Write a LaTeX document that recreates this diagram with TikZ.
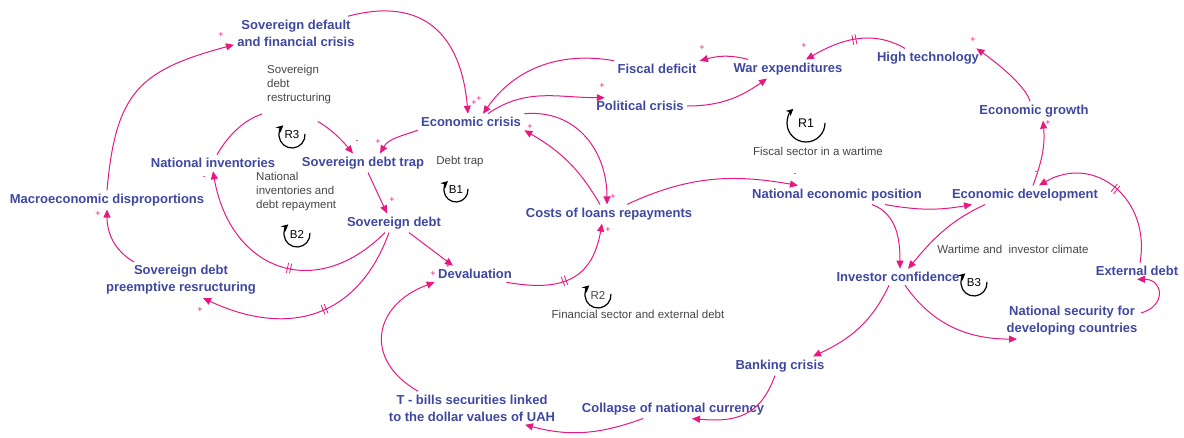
\documentclass[tikz,border=0pt]{standalone}
\usepackage{fontspec}
\setmainfont{Liberation Sans}
\usepackage{tikz}
\usetikzlibrary{arrows.meta,decorations.markings}
\definecolor{varblue}{RGB}{62,72,160}
\definecolor{linkpink}{RGB}{232,24,128}
\definecolor{notegray}{RGB}{70,70,70}
\tikzstyle{varbox} = [font=\bfseries\fontsize{13}{17}\selectfont, text=varblue, align=center, inner sep=3.3pt]
\tikzstyle{looptitle} = [font=\fontsize{11.5}{14}\selectfont, text=notegray, inner sep=1pt]
\tikzstyle{loopid} = [font=\fontsize{11.5}{13}\selectfont, inner sep=0pt]
\tikzstyle{causal} = [draw=linkpink, line width=1pt, -{Triangle[length=8pt,width=7pt]}]
\tikzstyle{polarity} = [text=linkpink, font=\fontsize{9}{9}\selectfont, inner sep=0pt]
\tikzstyle{loopturn} = [black, line width=1.2pt, -{Stealth[length=7pt,width=7pt]}]
\tikzset{delaymark/.style={postaction={decorate, decoration={markings, mark=at position #1 with {\draw[linkpink, line width=0.8pt, -] (-1.6pt,-5pt) -- (-1.6pt,5pt) (1.6pt,-5pt) -- (1.6pt,5pt);}}}},
  delaymark/.default=0.5}

\begin{document}
\begin{tikzpicture}[x=1pt, y=1pt]
    \useasboundingbox (0,0) rectangle (1184,-437);
    % variables
    \node (sdef) [varbox] at (296,-33) {Sovereign default\\and financial crisis};
    \node (ecris) [varbox] at (471,-122) {Economic crisis};
    \node (fdef) [varbox] at (657,-69) {Fiscal deficit};
    \node (warexp) [varbox] at (788,-69) {War expenditures};
    \node (pcris) [varbox] at (640,-106) {Political crisis};
    \node (hitech) [varbox] at (928,-58) {High technology};
    \node (egrow) [varbox] at (1034,-111) {Economic growth};
    \node (edev) [varbox] at (1025,-195) {Economic development};
    \node (nepos) [varbox] at (837,-195) {National economic position};
    \node (costs) [varbox] at (609,-214) {Costs of loans repayments};
    \node (deval) [varbox] at (475,-274) {Devaluation};
    \node (sdebt) [varbox] at (394,-223) {Sovereign debt};
    \node (strap) [varbox] at (363,-163) {Sovereign debt trap};
    \node (ninv) [varbox] at (213,-163) {National inventories};
    \node (macro) [varbox] at (107,-200) {Macroeconomic disproportions};
    \node (spre) [varbox] at (181,-280) {Sovereign debt\\preemptive resructuring};
    \node (tbills) [varbox] at (472,-408) {T - bills securities linked\\to the dollar values of UAH};
    \node (collapse) [varbox] at (673,-409) {Collapse of national currency};
    \node (bank) [varbox] at (780,-366) {Banking crisis};
    \node (invconf) [varbox] at (898,-277) {Investor confidence};
    \node (nsec) [varbox] at (1072,-321) {National security for\\developing countries};
    \node (extdebt) [varbox] at (1137,-271) {External debt};

    % loop names
    \node (lsdr) [looptitle, align=left, anchor=west] at (266,-85) {Sovereign\\debt\\restructuring};
    \node (lninv) [looptitle, align=left, anchor=west] at (255,-192) {National\\inventories and\\debt repayment};
    \node (ldtrap) [looptitle] at (460,-162) {Debt trap};
    \node (lfiscal) [looptitle] at (818,-151) {Fiscal sector in a wartime};
    \node (lfin) [looptitle] at (638,-314) {Financial sector and external debt};
    \node (lwar) [looptitle] at (1013,-249) {Wartime and~ investor climate};

    % causal links
    \draw [causal] ([xshift=-10pt]sdef.north east) to[out=15, in=95, looseness=1.3] ([xshift=-3pt]ecris.north) node (p1) [polarity] at (474,-103) {+};
    \draw [causal] (fdef.north west) to[out=170, in=55] ([xshift=12pt]ecris.north) node (p2) [polarity] at (479,-99) {+};
    \draw [causal] ([xshift=17pt]ecris.north) to[out=35, in=180] ([xshift=12pt]pcris.north west) node (p3) [polarity] at (602,-86) {+};
    \draw [causal] (pcris.east) to[out=0, in=215] ([xshift=-21pt]warexp.south);
    \draw [causal] ([xshift=-40pt]warexp.north) to[out=165, in=15] (fdef.north east) node (p5) [polarity] at (702,-48) {+};
    \draw [causal, delaymark] ([xshift=-23pt]hitech.north) to[out=150, in=30] ([xshift=18pt]warexp.north) node (p6) [polarity] at (804,-46) {+};
    \draw [causal] ([xshift=-4pt]egrow.north) to[out=105, in=-35, looseness=0.6] ([xshift=-6pt]hitech.north east) node (p7) [polarity] at (973,-40) {+};
    \draw [causal] ([xshift=8pt]edev.north) to[out=70, in=-85] ([xshift=9pt]egrow.south) node (p8) [polarity] at (1048,-123) {+};
    \draw [causal, delaymark] ([xshift=3pt]extdebt.north) to[out=80, in=30, looseness=1.3] ([xshift=14pt]edev.north) node (p9) [polarity] at (1036,-173) {-};
    \draw [causal] ([yshift=8pt]nsec.east) to[out=15, in=0, looseness=2] (extdebt.south);
    \draw [causal] ([xshift=48pt]nepos.south) to[out=-10, in=190] ([xshift=-53pt]edev.south);
    \draw [causal] ([xshift=35pt]nepos.south) to[out=-20, in=90] ([xshift=2pt]invconf.north);
    \draw [causal] ([xshift=-40pt]edev.south) to[out=205, in=50] ([xshift=10pt]invconf.north);
    \draw [causal] ([xshift=18pt]costs.north) to[out=25, in=170] ([xshift=-39pt]nepos.north) node (p14) [polarity] at (795,-175) {-};
    \draw [causal] (ecris.north east) to[out=5, in=90, looseness=1.1] ([xshift=-2pt]costs.north) node (p15) [polarity] at (613,-197) {+};
    \draw [causal] ([xshift=-9pt]costs.north) to[out=120, in=-30] (ecris.south east) node (p16) [polarity] at (530,-127) {+};
    \draw [causal] (ecris.south west) to[out=200, in=60] ([xshift=17pt]strap.north) node (p17) [polarity] at (378,-142) {+};
    \draw [causal, dash pattern=on 62pt off 58pt on 300pt] ([xshift=4pt]ninv.north) to[out=60, in=130, looseness=1.3] ([xshift=-10pt]strap.north) node (p18) [polarity] at (357,-142) {-};
    \draw [causal] ([xshift=5pt]strap.south) to[out=-65, in=115] ([xshift=-7pt]sdebt.north) node (p19) [polarity] at (392,-200) {+};
    \draw [causal, delaymark=0.45] ([xshift=-9pt]sdebt.south) to[out=-135, in=-80, looseness=1.4] (ninv.south) node (p20) [polarity] at (204,-178) {-};
    \draw [causal, delaymark=0.45] ([xshift=-5pt]sdebt.south) to[out=-110, in=-25, looseness=1.2] ([xshift=22pt]spre.south) node (p21) [polarity] at (200,-310) {+};
    \draw [causal] ([xshift=-47pt]spre.north) to[out=150, in=-90] (macro.south) node (p22) [polarity] at (98,-214) {+};
    \draw [causal] (macro.north) to[out=85, in=195, looseness=1.3] ([yshift=5pt]sdef.south west) node (p23) [polarity] at (221,-35) {+};
    \draw [causal] ([xshift=15pt]sdebt.south) -- ([xshift=-22pt]deval.north) node (p24) [polarity] at (448,-266) {+};
    \draw [causal] ([xshift=-54pt]tbills.north) to[out=150, in=200, looseness=1.5] (deval.south west) node (p25) [polarity] at (433,-274) {+};
    \draw [causal, delaymark=0.45] ([xshift=-9pt]deval.south east) to[out=-10, in=-100, looseness=1.3] ([xshift=-7pt]costs.south) node (p26) [polarity] at (608,-230) {+};
    \draw [causal] ([xshift=-30pt]collapse.south) to[out=200, in=-15] ([xshift=53pt]tbills.south);
    \draw [causal] ([xshift=-5pt]bank.south) to[out=-110, in=-5, looseness=1.2] ([xshift=19pt]collapse.south);
    \draw [causal] ([xshift=-9pt]invconf.south) to[out=-115, in=25] ([xshift=33pt]bank.north);
    \draw [causal] ([xshift=7pt]invconf.south) to[out=-55, in=180] ([xshift=-55pt]nsec.south);

    % loop symbols
    \node (r1) [loopid, font=\fontsize{12.5}{14}\selectfont] at (806,-123) {R1};
    \draw [loopturn] (r1.center) ++(0:19) arc[start angle=0, end angle=-228, radius=19];
    \node (r2) [loopid, text=notegray] at (598,-295) {R2};
    \draw [loopturn] (r2.center) ++(5:13) arc[start angle=5, end angle=-228, radius=13];
    \node (r3) [loopid] at (292,-135) {R3};
    \draw [loopturn] (r3.center) ++(5:13) arc[start angle=5, end angle=-228, radius=13];
    \node (b1) [loopid] at (456,-190) {B1};
    \draw [loopturn] (b1.center) ++(5:12) arc[start angle=5, end angle=-228, radius=12];
    \node (b2) [loopid] at (297,-234) {B2};
    \draw [loopturn] (b2.center) ++(5:13) arc[start angle=5, end angle=-228, radius=13];
    \node (b3) [loopid] at (974,-283) {B3};
    \draw [loopturn] (b3.center) ++(5:13) arc[start angle=5, end angle=-228, radius=13];
\end{tikzpicture}
\end{document}
